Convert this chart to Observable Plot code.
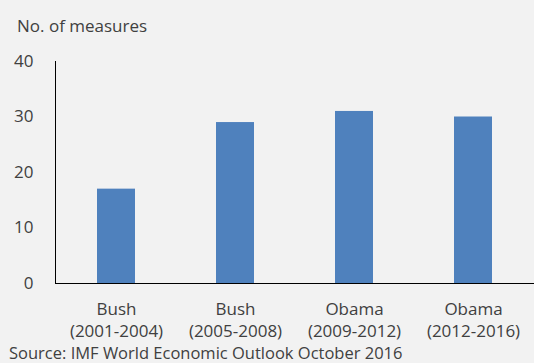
<!DOCTYPE html>
<html>
<head>
<meta charset="utf-8">
<script src="https://cdn.jsdelivr.net/npm/d3@7"></script>
<script src="https://cdn.jsdelivr.net/npm/@observablehq/plot@0.6"></script>
<style>
  html, body { margin: 0; padding: 0; background: #f2f2f2; }
  #wrap { width: 534px; height: 363px; overflow: hidden; background: #f2f2f2; font-family: "Open Sans", sans-serif; color: #404040; }
  #title { height: 40px; box-sizing: border-box; padding: 16px 0 0 17px; font-size: 17px; line-height: 20px; }
  #caption { height: 22px; box-sizing: border-box; padding: 3px 0 0 9px; font-size: 16.5px; line-height: 18px; white-space: nowrap; }
</style>
</head>
<body>
<div id="wrap">
  <div id="title">No. of measures</div>
  <div id="chart"></div>
  <div id="caption">Source: IMF World Economic Outlook October 2016</div>
</div>
<script>
const categories = ["Bush\n(2001-2004)", "Bush\n(2005-2008)", "Obama\n(2009-2012)", "Obama\n(2012-2016)"];
const values = [17, 29, 31, 30];
const yTicks = [0, 10, 20, 30, 40];

const data = categories.map((c, i) => ({category: c, value: values[i]}));

const chart = Plot.plot({
  width: 534,
  height: 301,
  marginTop: 21,
  marginBottom: 58,
  marginLeft: 55,
  marginRight: 0,
  style: {background: "#f2f2f2", fontFamily: "Open Sans, sans-serif", fontSize: "17px", color: "#404040"},
  x: {domain: categories, paddingInner: 0.68, paddingOuter: 0.34},
  y: {domain: [0, 40]},
  marks: [
    Plot.barY(data, {x: "category", y: "value", fill: "#4f81bd"}),
    Plot.axisY({ticks: yTicks, tickSize: 0, tickPadding: 22, label: null, fontSize: 17}),
    Plot.axisX({tickSize: 0, tickPadding: 16, label: null, fontSize: 17, lineHeight: 1.28}),
    Plot.frame({anchor: "left", stroke: "#000", strokeWidth: 1}),
    Plot.ruleY([0], {stroke: "#000", strokeWidth: 1})
  ]
});
document.getElementById("chart").appendChild(chart);
</script>
</body>
</html>
